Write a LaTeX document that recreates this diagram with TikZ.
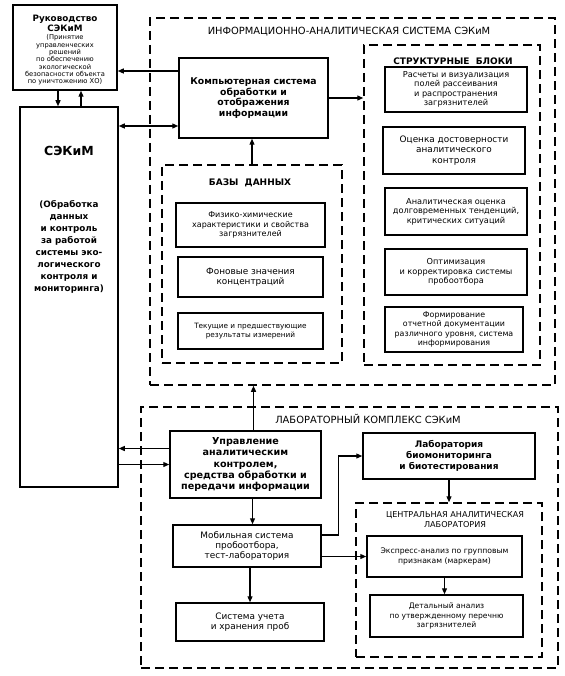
\documentclass[tikz,border=0pt]{standalone}
\usepackage{fontspec}
\setmainfont{DejaVu Sans}
\usetikzlibrary{arrows.meta}
\newcommand\fsm{\fontsize{8.2}{9.4}\selectfont}
\newcommand\fxs{\fontsize{7.3}{8.8}\selectfont}
\newcommand\fmd{\fontsize{8.9}{10.5}\selectfont}
\newcommand\fbd{\fontsize{9}{10.8}\selectfont\bfseries}
\newcommand\ftt{\fontsize{9.9}{11}\selectfont}
\tikzset{
  blk/.style={draw, line width=1.5pt, align=center, inner sep=0pt},
  grp/.style={draw, line width=1.5pt, dash pattern=on 9pt off 5pt, inner sep=0pt},
  con/.style={line width=1.2pt, ->},
  tsm/.style={font=\fsm, align=center},
  txs/.style={font=\fxs, align=center},
  tmd/.style={font=\fmd, align=center},
  tbd/.style={font=\fbd, align=center},
  ttl/.style={font=\ftt},
  >={Triangle[length=6pt,width=5pt]}
}
\begin{document}
\begin{tikzpicture}[x=1pt,y=-1pt]
\useasboundingbox (0,0) rectangle (564,676);
\node[grp, minimum width=405, minimum height=367] (info) at (352.5,201.5) {};
\node[ttl] (infot) at (349,32) {ИНФОРМАЦИОННО-АНАЛИТИЧЕСКАЯ СИСТЕМА СЭКиМ};
\node[grp, minimum width=176, minimum height=320] (struct) at (452,205) {};
\node[tbd] (structt) at (453,61) {СТРУКТУРНЫЕ\ \ БЛОКИ};
\node[grp, minimum width=180, minimum height=198] (bazy) at (252,264) {};
\node[tbd] (bazyt) at (250,183) {БАЗЫ\ \ ДАННЫХ};
\node[grp, minimum width=417, minimum height=261] (lab) at (349.5,537.5) {};
\node[ttl] (labt) at (368,419) {ЛАБОРАТОРНЫЙ КОМПЛЕКС СЭКиМ};
\node[grp, minimum width=186, minimum height=154] (central) at (449,580) {};
\node[tsm, font=\fontsize{8.1}{9.5}\selectfont] (centralt) at (455,519.5) {ЦЕНТРАЛЬНАЯ АНАЛИТИЧЕСКАЯ\\ЛАБОРАТОРИЯ};
\node[blk, minimum width=104, minimum height=85] (ruk) at (65,47.5) {};
\node[tbd, font=\fontsize{8.8}{10}\selectfont\bfseries] (rukt) at (65,23) {Руководство\\СЭКиМ};
\node[align=center, font=\fontsize{6.7}{7.35}\selectfont] (rukd) at (65,60)
  {(Принятие\\управленческих\\решений\\по обеспечению\\экологической\\безопасности объекта\\по уничтожению ХО)};
\node[blk, minimum width=98, minimum height=380] (sekim) at (69,297) {};
\node[font=\fontsize{12.5}{14}\selectfont\bfseries] (sekimt) at (69,151) {СЭКиМ};
\node[align=center, font=\fontsize{8.8}{12}\selectfont\bfseries] (sekimd) at (69,247)
  {(Обработка\\данных\\и контроль\\за работой\\системы эко-\\логического\\контроля и\\мониторинга)};
\node[blk, tbd, font=\fontsize{9.3}{10.5}\selectfont\bfseries, minimum width=149, minimum height=80] (komp) at (253.5,98)
  {Компьютерная система\\обработки и\\отображения\\информации};
\node[blk, tsm, minimum width=142, minimum height=45] (s1) at (456,89.5)
  {Расчеты и визуализация\\полей рассеивания\\и распространения\\загрязнителей};
\node[blk, tmd, minimum width=142, minimum height=47] (s2) at (454,150.5)
  {Оценка достоверности\\аналитического\\контроля};
\node[blk, tsm, minimum width=142, minimum height=47] (s3) at (456,211.5)
  {Аналитическая оценка\\долговременных тенденций,\\критических ситуаций};
\node[blk, tsm, minimum width=142, minimum height=46] (s4) at (456,272)
  {Оптимизация\\и корректировка системы\\пробоотбора};
\node[blk, tsm, font=\fontsize{7.9}{9.4}\selectfont, minimum width=138, minimum height=45] (s5) at (454,329.5)
  {Формирование\\отчетной документации\\различного уровня, система\\информирования};
\node[blk, tsm, font=\fontsize{8}{9.8}\selectfont, minimum width=149, minimum height=44] (b1) at (250.5,225)
  {Физико-химические\\характеристики и свойства\\загрязнителей};
\node[blk, tmd, minimum width=145, minimum height=40] (b2) at (250.5,277)
  {Фоновые значения\\концентраций};
\node[blk, txs, minimum width=145, minimum height=36] (b3) at (250.5,331)
  {Текущие и предшествующие\\результаты измерений};
\node[blk, tbd, font=\fontsize{9.6}{11.3}\selectfont\bfseries, minimum width=151, minimum height=67] (upr) at (245.5,464.5)
  {Управление\\аналитическим\\контролем,\\средства обработки и\\передачи информации};
\node[blk, tmd, font=\fontsize{8.9}{9.8}\selectfont, minimum width=148, minimum height=42] (mob) at (247,546)
  {Мобильная система\\пробоотбора,\\тест-лаборатория};
\node[blk, tmd, minimum width=148, minimum height=38] (store) at (250,622)
  {Система учета\\и хранения проб};
\node[blk, tbd, minimum width=172, minimum height=46] (biolab) at (449,456)
  {Лаборатория\\биомониторинга\\и биотестирования};
\node[blk, txs, font=\fontsize{7.7}{9.2}\selectfont, minimum width=155, minimum height=41] (express) at (444.5,556.5)
  {Экспресс-анализ по групповым\\признакам (маркерам)};
\node[blk, txs, font=\fontsize{7.6}{9.2}\selectfont, minimum width=153, minimum height=42] (detail) at (446.5,616)
  {Детальный анализ\\по утвержденному перечню\\загрязнителей};
\coordinate (dn) at ([xshift=-11pt]sekim.north);
\coordinate (up) at ([xshift=12pt]sekim.north);
\coordinate (kr) at ([yshift=27pt]komp.west);
\coordinate (ks) at ([yshift=-28pt]komp.west);
\coordinate (us) at ([yshift=16pt]upr.west);
\coordinate (ut) at ([xshift=8pt]upr.north);
\coordinate (ub) at ([xshift=7pt]upr.south);
\coordinate (mr) at ([yshift=11pt]mob.east);
\draw[con] (dn |- ruk.south) -- (dn);
\draw[con] (up) -- (up |- ruk.south);
\draw[con] (kr) -- (kr -| ruk.east);
\draw[con, <->] (ks -| sekim.east) -- (ks);
\draw[con] (komp.east) -- (komp.east -| struct.west);
\draw[con] (bazy.north) -- (bazy.north |- komp.south);
\draw[con] (us) -- (us -| sekim.east);
\draw[con] (sekim.east |- upr.west) -- (upr.west);
\draw[con] (ut) -- (ut |- info.south);
\draw[con] (ub) -- (ub |- mob.north);
\draw[con] (mr) -- ++(17,0) |- (biolab.west);
\draw[con] (mob.east |- express.west) -- (express.west);
\draw[con] (biolab.south) -- (central.north);
\draw[con] (express.south) -- (express.south |- detail.north);
\draw[con] (store.north |- mob.south) -- (store.north);
\end{tikzpicture}
\end{document}
